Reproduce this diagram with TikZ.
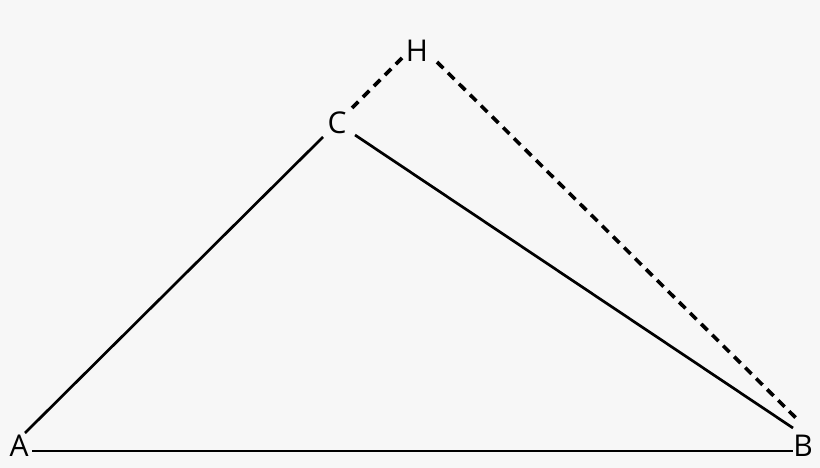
\documentclass[tikz,border=0pt]{standalone}
\usepackage{fontspec}
\setmainfont{Open Sans}
\usetikzlibrary{calc}
\definecolor{bg}{HTML}{F7F7F7}
\begin{document}
\begin{tikzpicture}[x=1pt,y=-1pt,
  lbl/.style={inner sep=0pt,font=\fontsize{30}{30}\selectfont},
  edge/.style={line width=2.7pt,black},
  dashedge/.style={line width=3.6pt,black,dash pattern=on 9pt off 6.5pt}]
\fill[bg] (0,0) rectangle (820,468);
\useasboundingbox (0,0) rectangle (820,468);
\node[lbl] (A) at (19,446) {A};
\node[lbl] (B) at (803,446) {B};
\node[lbl] (C) at (337,123) {C};
\node[lbl] (H) at (417,51) {H};
\draw[edge] ($(A)+(6,-13)$) -- ($(C)+(-14,14)$);
\draw[edge] ($(C)+(18,12)$) -- ($(B)+(-10,-18)$);
\draw[edge] ($(A)+(13,5)$) -- ($(B)+(-10,5)$);
\draw[dashedge] ($(C)+(15,-15)$) -- ($(H)+(-15,7)$);
\draw[dashedge] ($(H)+(20,11)$) -- ($(B)+(-5,-26)$);
\end{tikzpicture}
\end{document}
